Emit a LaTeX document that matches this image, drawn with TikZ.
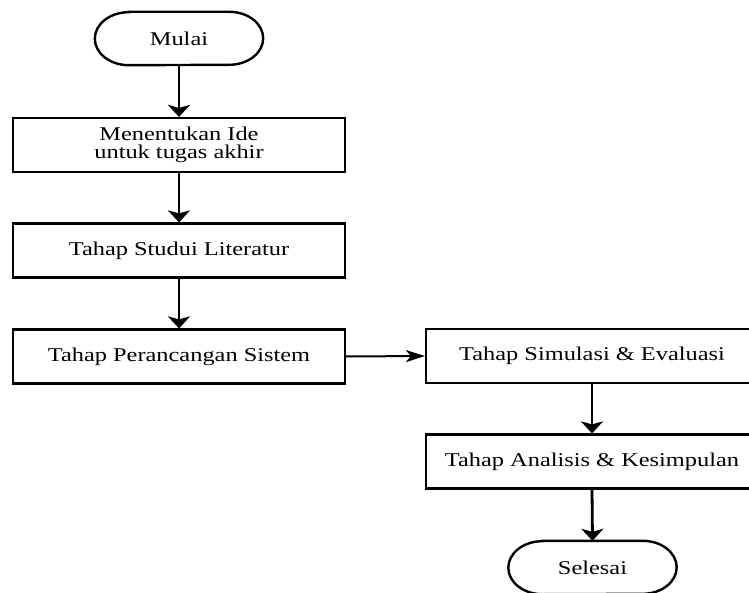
\documentclass[tikz,border=0pt]{standalone}
\usepackage{fontspec}
\setmainfont[FakeStretch=1.25]{Liberation Serif}
\usetikzlibrary{arrows.meta,calc}
\tikzset{
  box/.style={draw, line width=2.2pt, rectangle, minimum width=332pt, minimum height=54pt, inner sep=0pt, align=center, font=\fontsize{19.5}{18.5}\selectfont},
  term/.style={rectangle, minimum width=168pt, minimum height=53pt, inner sep=0pt, font=\fontsize{19.5}{18.5}\selectfont},
  termline/.style={line width=2.4pt},
  varrow/.style={line width=2.8pt, -{Stealth[length=12pt,width=22pt,inset=3pt]}},
  harrow/.style={line width=2pt, -{Stealth[length=19pt,width=12pt,inset=5pt]}}
}
\begin{document}
\begin{tikzpicture}[x=1pt,y=1pt]
\clip (0,0) rectangle (749,-593);
\node[term] (start) at (179,-38.5) {Mulai};
\node[box] (b1) at (179,-145) {Menentukan Ide\\untuk tugas akhir};
\node[box] (b2) at (179,-250.5) {Tahap Studui Literatur};
\node[box] (b3) at (179,-356.5) {Tahap Perancangan Sistem};
\node[box] (b4) at (592,-356) {Tahap Simulasi \& Evaluasi};
\node[box] (b5) at (592,-461.5) {Tahap Analisis \& Kesimpulan};
\node[term] (end) at (592.5,-567.5) {Selesai};
\foreach \t in {start,end}{
  \draw[termline] ($(\t.north west)+(34pt,0)$) -- ($(\t.north east)+(-34pt,0)$)
    arc[start angle=90,end angle=-90,x radius=34pt,y radius=26.5pt]
    -- ($(\t.south west)+(34pt,0)$)
    arc[start angle=270,end angle=90,x radius=34pt,y radius=26.5pt] -- cycle;
}
\draw[varrow] (start.south) -- (b1.north);
\draw[varrow] (b1.south) -- (b2.north);
\draw[varrow] (b2.south) -- (b3.north);
\draw[harrow] (b3.east) -- (b4.west);
\draw[varrow] (b4.south) -- (b5.north);
\draw[varrow] (b5.south) -- (end.north);
\end{tikzpicture}
\end{document}
